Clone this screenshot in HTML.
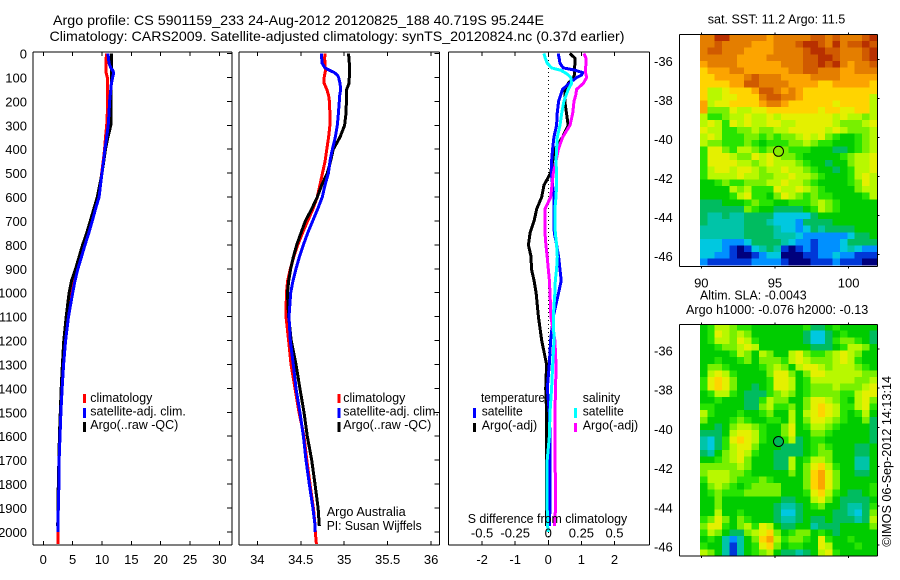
<!DOCTYPE html>
<html>
<head>
<meta charset="utf-8">
<title>Argo profile</title>
<style>
html,body{margin:0;padding:0;background:#fff}
svg{display:block}
text{font-family:"Liberation Sans",sans-serif;font-size:13px;fill:#000}
</style>
</head>
<body>
<svg id="chart" xmlns="http://www.w3.org/2000/svg" width="900" height="580" viewBox="0 0 900 580">
<rect x="0" y="0" width="900" height="580" fill="#fff"/>
<text x="53" y="25" style="font-size:14px" textLength="491" lengthAdjust="spacingAndGlyphs">Argo profile: CS 5901159_233 24-Aug-2012 20120825_188 40.719S 95.244E</text>
<text x="49.5" y="41" style="font-size:14px" textLength="575" lengthAdjust="spacingAndGlyphs">Climatology: CARS2009. Satellite-adjusted climatology: synTS_20120824.nc (0.37d earlier)</text>
<g id="plots"></g>

<g>
<rect x="83" y="394" width="3" height="9" fill="#f00"/>
<rect x="83" y="408" width="3" height="10" fill="#00f"/>
<rect x="83" y="422" width="3" height="10" fill="#000"/>
<text x="90.3" y="402" textLength="62" lengthAdjust="spacingAndGlyphs">climatology</text>
<text x="90.3" y="415.5" textLength="95.5" lengthAdjust="spacingAndGlyphs">satellite-adj. clim.</text>
<text x="90.3" y="429" textLength="88" lengthAdjust="spacingAndGlyphs">Argo(..raw -QC)</text>
</g>
<g>
<rect x="337.5" y="394" width="3" height="9" fill="#f00"/>
<rect x="337.5" y="408" width="3" height="10" fill="#00f"/>
<rect x="337.5" y="422" width="3" height="10" fill="#000"/>
<text x="343.3" y="402" textLength="62" lengthAdjust="spacingAndGlyphs">climatology</text>
<text x="343.3" y="415.5" textLength="95.5" lengthAdjust="spacingAndGlyphs">satellite-adj. clim.</text>
<text x="343.3" y="429" textLength="88" lengthAdjust="spacingAndGlyphs">Argo(..raw -QC)</text>
<text x="326.7" y="516" textLength="79" lengthAdjust="spacingAndGlyphs">Argo Australia</text>
<text x="326.7" y="530" textLength="95" lengthAdjust="spacingAndGlyphs">PI: Susan Wijffels</text>
</g>
<g>
<text x="481" y="402" textLength="64" lengthAdjust="spacingAndGlyphs">temperature</text>
<rect x="473" y="408" width="3" height="10" fill="#00f"/>
<text x="481.7" y="415.5" textLength="41" lengthAdjust="spacingAndGlyphs">satellite</text>
<rect x="473" y="423" width="3" height="9" fill="#000"/>
<text x="481.7" y="429.5" textLength="55.5" lengthAdjust="spacingAndGlyphs">Argo(-adj)</text>
<text x="582.7" y="402" textLength="37.5" lengthAdjust="spacingAndGlyphs">salinity</text>
<rect x="574" y="408" width="3" height="10" fill="#0ff"/>
<text x="582.7" y="415.5" textLength="41" lengthAdjust="spacingAndGlyphs">satellite</text>
<rect x="574" y="423" width="3" height="9" fill="#f0f"/>
<text x="582.7" y="429.5" textLength="55.5" lengthAdjust="spacingAndGlyphs">Argo(-adj)</text>
<text x="467.7" y="523" textLength="159.5" lengthAdjust="spacingAndGlyphs">S difference from climatology</text>
</g>

<text x="707.7" y="23.5" textLength="137.6" lengthAdjust="spacingAndGlyphs">sat. SST: 11.2 Argo: 11.5</text>
<text x="700" y="299.5" textLength="106.7" lengthAdjust="spacingAndGlyphs">Altim. SLA: -0.0043</text>
<text x="686" y="314" textLength="182.3" lengthAdjust="spacingAndGlyphs">Argo h1000: -0.076 h2000: -0.13</text>
<text transform="translate(891,546.7) rotate(-90)" x="0" y="0" textLength="170.7" lengthAdjust="spacingAndGlyphs">©IMOS 06-Sep-2012 14:13:14</text>
</svg>

<script>
// ---- profile data ----
const depths = [0,20,40,60,70,80,90,100,125,150,175,200,250,300,350,400,450,500,550,600,650,700,750,800,850,900,950,1000,1100,1200,1300,1400,1500,1600,1700,1800,1900,1975,2000,2050];
const tempClim = [10.8,10.7,10.7,10.7,10.65,10.7,10.8,10.9,10.9,10.9,10.9,10.9,10.9,10.8,10.6,10.45,10.2,9.95,9.7,9.3,8.8,8.2,7.6,7.0,6.4,5.85,5.2,4.8,4.1,3.65,3.35,3.15,2.95,2.85,2.7,2.65,2.55,2.5,2.5,2.5];
const tempArgo = [11.6,11.65,11.65,11.65,11.65,11.65,11.65,11.65,11.6,11.5,11.5,11.5,11.5,11.5,11.0,10.6,10.3,10.0,9.6,9.2,8.6,8.0,7.4,6.7,6.1,5.5,4.8,4.4,3.9,3.5,3.25,3.05,2.9,2.75,2.65,2.55,2.5,2.45,null,null];
const tempSat = [11.0,11.1,11.2,11.5,11.8,12.0,11.9,11.8,11.6,11.5,11.4,11.3,11.2,11.05,10.8,10.5,10.25,10.0,9.75,9.5,8.9,8.35,7.75,7.1,6.5,5.9,5.4,5.0,4.3,3.8,3.45,3.2,3.0,2.85,2.7,2.65,2.55,2.5,2.5,null];
const salClim = [34.78,34.775,34.78,34.78,34.785,34.78,34.775,34.77,34.77,34.80,34.82,34.83,34.835,34.835,34.82,34.80,34.78,34.75,34.72,34.69,34.64,34.58,34.52,34.465,34.42,34.38,34.35,34.335,34.33,34.36,34.388,34.434,34.48,34.537,34.57,34.606,34.645,34.665,34.667,34.68];
const salArgo = [35.048,35.055,35.059,35.059,35.059,35.059,35.059,35.059,35.055,35.029,35.025,35.025,35.021,35.005,34.952,34.875,34.844,34.806,34.741,34.691,34.626,34.553,34.503,34.453,34.415,34.384,34.361,34.346,34.36,34.39,34.445,34.49,34.537,34.575,34.626,34.664,34.70,34.714,null,null];
const salSat = [34.741,34.741,34.745,34.779,34.829,34.887,34.921,34.936,34.952,34.96,34.948,34.944,34.933,34.921,34.898,34.864,34.837,34.818,34.779,34.748,34.695,34.637,34.58,34.53,34.484,34.445,34.411,34.384,34.365,34.38,34.414,34.445,34.49,34.53,34.56,34.598,34.64,34.665,34.664,null];
const diffTempSat = [.30,.33,.35,.45,.81,1.04,1.01,.86,.63,.43,.37,.31,.27,.25,.17,.13,.10,.09,.13,.17,.17,.17,.18,.25,.31,.35,.39,.31,.15,.07,.03,-.03,.03,.05,.05,.05,.05,.03,null,null];
const diffTempArgo = [.65,.81,.81,.79,.79,.79,.79,.76,.60,.50,.50,.50,.55,.60,.43,.20,.13,.07,-.13,-.20,-.35,-.43,-.55,-.60,-.52,-.51,-.43,-.37,-.30,-.20,-.05,-.08,-.05,-.05,-.05,-.05,-.05,-.05,null,null];
const diffSalSat = [-.033,-.023,-.008,.025,.093,.126,.151,.169,.176,.151,.134,.118,.101,.088,.068,.063,.058,.063,.063,.058,.05,.05,.053,.063,.068,.063,.053,.05,.038,.043,.033,.025,.013,.008,-.008,-.008,-.008,-.005,0,null];
const diffSalArgo = [.27,.285,.285,.282,.28,.282,.285,.29,.264,.214,.207,.194,.184,.164,.108,.076,.058,.038,.028,.018,-.025,-.025,-.025,-.018,-.008,0,.008,.013,.02,.05,.058,.055,.05,.05,.05,.055,.055,.045,null,null];
// ---- tick labels ----
const depthTicks = [0,100,200,300,400,500,600,700,800,900,1000,1100,1200,1300,1400,1500,1600,1700,1800,1900,2000];
const tempTicks = [0,5,10,15,20,25,30];
const salTicks = [34,34.5,35,35.5,36];
const diffTicks = [-2,-1,0,1,2];
const sDiffTicks = [-0.5,-0.25,0,0.25,0.5];
const latTicks = [-36,-38,-40,-42,-44,-46];
const lonTicks = [90,95,100];
const argoLon = 95.244;
const argoLat = -40.719;
// ---- map grids: 24 columns x 35 rows, one colour level per cell ----
const sstGrid = [
"ddffdddddcdddddeededddef","ddeddddcccdddeffedfdeefe","deedddccccddddeffeedddef","dddddccccdddddeeffedddef",
"cddddccccccdddeefefdcdde","bcccddccccccddeedddccddd","bbccccdedddccccddddccccc","bbbbcceeddddccccbbcccccb",
"b99abbbceedcdcbbbbbbbbbb","b99aabbbdeeddcbbbbbbbbb9","c9aabbbbcddcbbbbbbabbbb9","c888a99aabbbbbbbabbaabb9",
"977899a99a9aaaaaaa9a9989","9a97a9a99aa99aaaaa98889a","a99778898899aaaaa9a98889","9a977788787889a9a8766789",
"988777876777889877666789","7aa879987898777666556789","7aaa988a9a9887666667899a","7aaaa9989a9998766566899a",
"79aa9aa9899a99876656799a","79999a998899a99876667 9a9","66787788899a9987666678a9","6666989777a99a9876666899",
"666679a7768a987877666679","555666787766777898766666","555555876655556798766666","544544555533333566666666",
"544444555433325555666666","444444555543323545555666","444444555544432222223556","333222355554322122235555",
"333210134541012122234322","332210012330001122322111","211111122221000111211100"].map(r => r.split(" ").join(""));
const slaGrid = [
"679987766666667556766666","67a989866666665335676665","67998a976666665335788765","667889a96666666555679986",
"6666798698669a87789a9866","6676678688879a98889a9766","68876666789869aa98999876","69a9766668aa868aa9999988",
"7aba866667aa967999999889","7aba866567aa96788898889a","6799765557898678888779aa","667666557988668aa98769a8",
"776666558977868aba9779a7","976667667866969aba976796","866678766776968aa9876685","665689987668a67998766665",
"55569aa97668a66887666665","4357aba97667956776666665","43579aa86665556787666556","54689a976655556788666556",
"66789a866655967998666446","888889866655968ab9766446","899988766666868bca866556","799987778766668bca866666",
"689876788886668bca866667","678777888886667ab9765567","6686666666655669a8655556","668666666654456786654457",
"669667666653356666554358","78a868766654456556555459","8aa76897a965566455566668","79865589ab86788676566666",
"67642468bc978876a7667666","76641467ab867766a9666766","98641467896554569a766666"];
const levelColors = {"0":"#00007d","1":"#0038d8","2":"#0090ff","3":"#00c8e0","4":"#00c4a8","5":"#00bc60","6":"#00cc00","7":"#28e400","8":"#78f000","9":"#b8f800","a":"#e4f000","b":"#ffd400","c":"#fca400","d":"#e47e00","e":"#d05a00","f":"#b83000"};

const NS = "http://www.w3.org/2000/svg";
const plots = document.getElementById("plots");
function add(parent, tag, attrs, text) {
  const el = document.createElementNS(NS, tag);
  for (const k in attrs) el.setAttribute(k, attrs[k]);
  if (text !== undefined) el.textContent = text;
  parent.appendChild(el);
  return el;
}
// ---- axes ----
const panelTop = 52, panelBottom = 545;
const depthY = d => 53.5 + d * 0.2392;
const tempX = t => 43.3 + t * 5.87;
const salX = s => 257.3 + (s - 34) * 86.9;
const diffX = v => 548.3 + v * 33.1;
const sDiffX = s => diffX(4 * s);

function seg(parent, name, x1, y1, x2, y2) {
  const l = add(parent, "line", {x1, y1, x2, y2, stroke: "#000", "stroke-width": 1, "shape-rendering": "crispEdges"});
  
  
  return l;
}
function label(parent, name, x, y, str, anchor) {
  const t = add(parent, "text", {x, y, "text-anchor": anchor || "middle"}, str);
  
  
  return t;
}
function profile(parent, name, xFn, values, color) {
  const pts = [];
  values.forEach((v, i) => { if (v !== null) pts.push(xFn(v).toFixed(1) + "," + depthY(depths[i]).toFixed(1)); });
  const p = add(parent, "polyline", {points: pts.join(" "), fill: "none", stroke: color, "stroke-width": 3, "stroke-linejoin": "miter", "shape-rendering": "crispEdges"});
  
  
}
function panelFrame(name, left, right, xFn, ticks, opts) {
  const g = add(plots, "g", {});
  
  
  seg(g, name + "-top-border", left, panelTop, right, panelTop);
  seg(g, name + "-bottom-border", left, panelBottom, right, panelBottom);
  if (opts.leftLine) seg(g, name + "-left-border", left, panelTop, left, panelBottom);
  if (opts.rightLine) seg(g, name + "-right-border", right, panelTop, right, panelBottom);
  ticks.forEach(t => {
    seg(g, name + "-top-tick", xFn(t), panelTop, xFn(t), panelTop + 4);
    seg(g, name + "-bottom-tick", xFn(t), panelBottom, xFn(t), panelBottom - 4);
    label(g, name + "-x-tick-label", xFn(t), 564, String(t));
  });
  if (opts.rightTicks) depthTicks.forEach(d => {
    seg(g, name + "-depth-tick", right - 5, depthY(d), right, depthY(d));
  });
  return g;
}
// temperature panel
const tempPanel = panelFrame("temperature-panel", 33, 232, tempX, tempTicks, {leftLine: true, rightLine: true, rightTicks: true});
depthTicks.forEach(d => label(tempPanel, "depth-tick-label", 27, depthY(d) + 5, String(d), "end"));
profile(tempPanel, "temperature-climatology-line", tempX, tempClim, "#f00");
profile(tempPanel, "temperature-argo-line", tempX, tempArgo, "#000");
profile(tempPanel, "temperature-satellite-line", tempX, tempSat, "#00f");
// salinity panel
const salPanel = panelFrame("salinity-panel", 239, 439.5, salX, salTicks, {leftLine: true, rightLine: true, rightTicks: true});
profile(salPanel, "salinity-climatology-line", salX, salClim, "#f00");
profile(salPanel, "salinity-argo-line", salX, salArgo, "#000");
profile(salPanel, "salinity-satellite-line", salX, salSat, "#00f");
// difference panel
const diffPanel = panelFrame("difference-panel", 448.5, 649.5, diffX, diffTicks, {leftLine: true, rightLine: true, rightTicks: false});
const zeroLine = add(diffPanel, "line", {x1: diffX(0), y1: panelTop, x2: diffX(0), y2: panelBottom, stroke: "#000", "stroke-width": 1, "stroke-dasharray": "1 3", "shape-rendering": "crispEdges"});


profile(diffPanel, "difference-temperature-argo-line", diffX, diffTempArgo, "#000");
profile(diffPanel, "difference-temperature-satellite-line", diffX, diffTempSat, "#00f");
profile(diffPanel, "difference-salinity-argo-line", sDiffX, diffSalArgo, "#f0f");
profile(diffPanel, "difference-salinity-satellite-line", sDiffX, diffSalSat, "#0ff");
sDiffTicks.forEach(s => label(diffPanel, "s-difference-tick-label", sDiffX(s), 537.7, String(s)));

// ---- maps ----
function drawMap(name, grid, boxTop, boxBottom, lat36Y, latScale, markerFill, showLonLabels) {
  const lonX = lon => 701.3 + (lon - 90) * 14.73;
  const latY = lat => lat36Y + (-36 - lat) * latScale;
  const g = add(plots, "g", {});
  
  
  const lonStart = 89.91, lonStep = 0.5, latStart = -34.73, latStep = 0.338;
  grid.forEach((row, r) => {
    for (let c = 0; c < row.length; c++) {
      const x0 = lonX(lonStart + c * lonStep), x1 = lonX(lonStart + (c + 1) * lonStep);
      const y0 = latY(latStart - r * latStep), y1 = latY(latStart - (r + 1) * latStep);
      const cell = add(g, "rect", {x: x0.toFixed(2), y: y0.toFixed(2), width: (x1 - x0 + 0.3).toFixed(2), height: (y1 - y0 + 0.3).toFixed(2), fill: levelColors[row[c]], "shape-rendering": "crispEdges"});
      
      
    }
  });
  const left = 679.5, right = 877.5;
  seg(g, name + "-top-border", left, boxTop, right, boxTop);
  seg(g, name + "-bottom-border", left, boxBottom, right, boxBottom);
  seg(g, name + "-left-border", left, boxTop, left, boxBottom);
  seg(g, name + "-right-border", right, boxTop, right, boxBottom);
  latTicks.forEach(lat => {
    seg(g, name + "-lat-tick", right, latY(lat), right + 2, latY(lat));
    label(g, name + "-lat-label", 654, latY(lat) + 6.5, String(lat), "start");
  });
  lonTicks.forEach(lon => {
    seg(g, name + "-lon-tick-top", lonX(lon), boxTop - 2, lonX(lon), boxTop);
    seg(g, name + "-lon-tick-bottom", lonX(lon), boxBottom, lonX(lon), boxBottom + 2);
    if (showLonLabels) label(g, name + "-lon-label", lonX(lon), boxBottom + 21, String(lon));
  });
  const marker = add(g, "circle", {cx: lonX(argoLon).toFixed(1), cy: latY(argoLat).toFixed(1), r: 5, fill: markerFill, stroke: "#000", "stroke-width": 1});
  
  
}
drawMap("sst-map", sstGrid, 34.5, 266.5, 59.3, 19.5, "#88ec00", true);
drawMap("sla-map", slaGrid, 324.5, 556, 349, 19.6, "#00b858", false);
</script>
</body>
</html>
